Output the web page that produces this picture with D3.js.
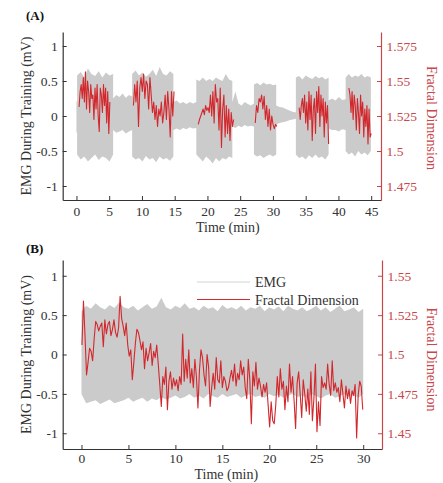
<!DOCTYPE html>
<html>
<head>
<meta charset="utf-8">
<script src="https://cdn.jsdelivr.net/npm/d3@7"></script>
<style>
  body { margin: 0; background: #fff; }
  svg { display: block; font-family: "Liberation Serif", "Times New Roman", serif; }
</style>
</head>
<body>
<svg id="chart" width="443" height="483"></svg>
<script>
// ---- data ----
// panel A: EMG envelope per block (time span in min, upper and lower edge in mV)
const emgA = [
  {t0: 0.0, t1: 0.1, hi: [0.2, 0.22], lo: [-0.25, -0.22]},
  {t0: 0.1, t1: 5.6, hi: [0.58, 0.63, 0.55, 0.68, 0.6, 0.57, 0.64, 0.55, 0.62, 0.58, 0.6], lo: [-0.55, -0.62, -0.58, -0.65, -0.6, -0.55, -0.63, -0.58, -0.6, -0.65, -0.55]},
  {t0: 5.6, t1: 8.5, hi: [0.25, 0.3, 0.27, 0.32, 0.26, 0.3, 0.28], lo: [-0.2, -0.24, -0.22, -0.2, -0.25, -0.22, -0.2]},
  {t0: 8.5, t1: 14.8, hi: [0.6, 0.65, 0.58, 0.62, 0.56, 0.6, 0.66, 0.57, 0.7, 0.6, 0.58, 0.64, 0.6], lo: [-0.58, -0.62, -0.6, -0.65, -0.57, -0.62, -0.6, -0.66, -0.58, -0.62, -0.6, -0.64, -0.58]},
  {t0: 14.8, t1: 18.3, hi: [0.2, 0.22, 0.18, 0.2, 0.17, 0.2, 0.18, 0.2], lo: [-0.2, -0.18, -0.2, -0.17, -0.19, -0.16, -0.18, -0.17]},
  {t0: 18.3, t1: 23.8, hi: [0.52, 0.5, 0.55, 0.5, 0.53, 0.5, 0.55, 0.52, 0.5, 0.6, 0.52, 0.5], lo: [-0.55, -0.6, -0.65, -0.58, -0.62, -0.68, -0.6, -0.65, -0.6, -0.62, -0.58, -0.6]},
  {t0: 23.8, t1: 27.1, hi: [0.2, 0.35, 0.18, 0.15, 0.2, 0.17, 0.15, 0.18], lo: [-0.15, -0.17, -0.14, -0.16, -0.13, -0.15, -0.14, -0.15]},
  {t0: 27.1, t1: 30.5, hi: [0.45, 0.47, 0.44, 0.48, 0.45, 0.46, 0.44, 0.45], lo: [-0.55, -0.58, -0.56, -0.6, -0.57, -0.55, -0.58, -0.55]},
  {t0: 30.5, t1: 33.5, hi: [0.15, 0.13, 0.12, 0.1, 0.08, 0.06, 0.05], lo: [-0.12, -0.1, -0.09, -0.08, -0.06, -0.05, -0.04]},
  {t0: 33.5, t1: 38.5, hi: [0.55, 0.57, 0.52, 0.58, 0.55, 0.53, 0.57, 0.54, 0.56, 0.52, 0.55], lo: [-0.55, -0.6, -0.58, -0.62, -0.56, -0.6, -0.55, -0.6, -0.58, -0.62, -0.55]},
  {t0: 38.5, t1: 41.1, hi: [0.22, 0.25, 0.22, 0.27, 0.23, 0.24], lo: [-0.18, -0.2, -0.2, -0.22, -0.19, -0.2]},
  {t0: 41.1, t1: 44.95, hi: [0.55, 0.6, 0.55, 0.58, 0.56, 0.6, 0.55, 0.57, 0.55], lo: [-0.5, -0.55, -0.52, -0.58, -0.5, -0.55, -0.52, -0.56, -0.5]}
]

// panel A: fractal dimension during each training block
const fdA = [
  {t0: 0.4, t1: 5.1, v: [1.5315, 1.5425, 1.5475, 1.5375, 1.5525, 1.535, 1.5565, 1.53, 1.55, 1.5425, 1.5275, 1.5475, 1.5375, 1.54, 1.5225, 1.545, 1.53, 1.5475, 1.525, 1.514, 1.545, 1.54, 1.5275, 1.5475, 1.5325, 1.545, 1.52, 1.5425, 1.5125, 1.535]},
  {t0: 8.7, t1: 14.9, v: [1.5325, 1.5475, 1.535, 1.55, 1.5175, 1.545, 1.5525, 1.5425, 1.555, 1.5375, 1.55, 1.5475, 1.53, 1.5525, 1.54, 1.5275, 1.535, 1.5225, 1.5325, 1.5175, 1.53, 1.525, 1.535, 1.52, 1.5275, 1.54, 1.5225, 1.5425, 1.53, 1.51, 1.5425, 1.525, 1.5425]},
  {t0: 18.6, t1: 24.0, v: [1.519, 1.5225, 1.525, 1.5275, 1.53, 1.526, 1.5325, 1.529, 1.531, 1.5275, 1.54, 1.525, 1.5425, 1.52, 1.5475, 1.535, 1.5375, 1.515, 1.545, 1.5025, 1.53, 1.54, 1.51, 1.5325, 1.5125, 1.53, 1.5075, 1.5275, 1.5175, 1.5225]},
  {t0: 27.3, t1: 30.6, v: [1.52, 1.5325, 1.5275, 1.5375, 1.535, 1.54, 1.53, 1.539, 1.5225, 1.5325, 1.5175, 1.53, 1.515, 1.525, 1.519, 1.516, 1.519, 1.5175]},
  {t0: 34.0, t1: 38.5, v: [1.531, 1.5225, 1.5325, 1.5375, 1.5275, 1.54, 1.52, 1.535, 1.515, 1.5425, 1.5225, 1.54, 1.5075, 1.53, 1.5375, 1.5125, 1.5425, 1.5275, 1.546, 1.5175, 1.54, 1.525, 1.5375, 1.51, 1.535, 1.52, 1.5325, 1.505]},
  {t0: 41.6, t1: 45.0, v: [1.545, 1.54, 1.5275, 1.5425, 1.5225, 1.54, 1.5325, 1.515, 1.5375, 1.5275, 1.5125, 1.54, 1.525, 1.535, 1.51, 1.53, 1.5175, 1.5325, 1.505, 1.53, 1.51, 1.5125]}
]

// panel B: EMG envelope over the whole 30 min session
const emgB = [
  {t0: 0, t1: 30,
   hi: [0.55, 0.62, 0.58, 0.65, 0.6, 0.57, 0.63, 0.59, 0.66, 0.6, 0.58, 0.62, 0.56, 0.6, 0.64, 0.58, 0.61, 0.72, 0.6, 0.57, 0.62, 0.59, 0.65, 0.58, 0.6, 0.56, 0.62, 0.58, 0.6, 0.55, 0.63, 0.58, 0.6, 0.57, 0.62, 0.56, 0.6, 0.58, 0.62, 0.55, 0.6, 0.57, 0.61, 0.55, 0.62, 0.58, 0.56, 0.6, 0.55, 0.58, 0.62, 0.56, 0.6, 0.54, 0.58, 0.62, 0.55, 0.57, 0.6, 0.54, 0.58],
   lo: [-0.5, -0.62, -0.6, -0.58, -0.63, -0.6, -0.57, -0.62, -0.6, -0.58, -0.55, -0.6, -0.57, -0.55, -0.6, -0.56, -0.58, -0.54, -0.57, -0.55, -0.52, -0.56, -0.54, -0.5, -0.55, -0.52, -0.56, -0.5, -0.53, -0.55, -0.5, -0.54, -0.52, -0.5, -0.55, -0.52, -0.5, -0.54, -0.52, -0.55, -0.5, -0.53, -0.51, -0.55, -0.52, -0.5, -0.54, -0.52, -0.55, -0.5, -0.53, -0.56, -0.52, -0.5, -0.55, -0.53, -0.5, -0.54, -0.52, -0.55, -0.5]}
]

// panel B: fractal dimension over the session
const fdB = [
  {t0: 0.05, t1: 29.95, v: [
    1.506, 1.534, 1.512, 1.487, 1.495, 1.504, 1.502, 1.496,
    1.510, 1.521, 1.519, 1.515, 1.518, 1.520, 1.505,
    1.522, 1.513, 1.519, 1.521, 1.512, 1.516, 1.522,
    1.514, 1.511, 1.517, 1.537, 1.523, 1.518, 1.512, 1.520,
    1.506, 1.499, 1.503, 1.484, 1.495, 1.507,
    1.516, 1.514, 1.509, 1.503, 1.508, 1.491,
    1.504, 1.496, 1.501, 1.507, 1.493, 1.502,
    1.498, 1.506, 1.494, 1.481, 1.467, 1.486,
    1.481, 1.492, 1.465, 1.483, 1.489, 1.478,
    1.485, 1.480, 1.484, 1.477, 1.486, 1.481,
    1.513, 1.483, 1.497, 1.485, 1.503, 1.482,
    1.491, 1.479, 1.497, 1.486, 1.466, 1.490,
    1.503, 1.498, 1.487, 1.480, 1.500, 1.492,
    1.467, 1.479, 1.488, 1.478, 1.498, 1.484,
    1.482, 1.496, 1.479, 1.486, 1.483, 1.477,
    1.479, 1.485, 1.490, 1.483, 1.494, 1.480,
    1.488, 1.484, 1.496, 1.487, 1.492, 1.479,
    1.472, 1.497, 1.484, 1.456, 1.489, 1.480,
    1.495, 1.478, 1.485, 1.480, 1.473, 1.481,
    1.476, 1.482, 1.468, 1.454, 1.470, 1.458,
    1.456, 1.468, 1.486, 1.473, 1.491, 1.478,
    1.483, 1.465, 1.480, 1.470, 1.494, 1.476,
    1.486, 1.471, 1.453, 1.482, 1.489, 1.475,
    1.460, 1.484, 1.475, 1.464, 1.478, 1.462,
    1.489, 1.458, 1.472, 1.494, 1.451, 1.470,
    1.455, 1.486, 1.479, 1.482, 1.478, 1.494,
    1.481, 1.474, 1.496, 1.477, 1.482, 1.476,
    1.479, 1.470, 1.484, 1.475, 1.466, 1.480,
    1.472, 1.478, 1.469, 1.477, 1.474, 1.481,
    1.447, 1.474, 1.483, 1.480, 1.465]}
]

const emgTicks = [-1, -0.5, 0, 0.5, 1]
const fdTicksA = [1.475, 1.5, 1.525, 1.55, 1.575]
const fdTicksB = [1.45, 1.475, 1.5, 1.525, 1.55]
const timeTicksA = [0, 5, 10, 15, 20, 25, 30, 35, 40, 45]
const timeTicksB = [0, 5, 10, 15, 20, 25, 30]

// ---- styles ----
const grey = "#cbcbcb"
const red = "#d2282d"
const axisRed = "#c9474b"
const ink = "#333333"

const svg = d3.select("#chart")

/**
 * Expands blocks {t0, t1, values} into evenly spaced points.
 */
function spread(block, key) {
    const n = block[key].length
    return block[key].map((v, i) => [block.t0 + (n > 1 ? i * (block.t1 - block.t0) / (n - 1) : 0), v])
}

/**
 * Draws one panel with a left EMG axis and a right fractal dimension axis.
 */
function panel(cfg) {
    const {left, right, top, bottom} = cfg
    const x = d3.scaleLinear().domain(cfg.xDomain).range([left, right])
    const y = d3.scaleLinear().domain([-1.2, 1.2]).range([bottom, top])
    const y2 = d3.scaleLinear().domain(cfg.fdDomain).range([bottom, top])
    const g = svg.append("g")

    // EMG as a grey band between the upper and lower envelope
    const pts = []
    cfg.emg.forEach(b => {
        const hi = spread(b, "hi"), lo = spread(b, "lo")
        hi.forEach((p, i) => pts.push({t: p[0], hi: p[1], lo: lo[i][1]}))
    })
    g.append("path")
        .datum(pts)
        .attr("fill", grey)
        .attr("d", d3.area().x(d => x(d.t)).y0(d => y(d.lo)).y1(d => y(d.hi)))

    // fractal dimension in red on the right scale
    const line = d3.line().x(d => x(d[0])).y(d => y2(d[1]))
    cfg.fd.forEach(b => {
        g.append("path")
            .datum(spread(b, "v"))
            .attr("fill", "none")
            .attr("stroke", red)
            .attr("stroke-width", 1.1)
            .attr("stroke-linejoin", "round")
            .attr("d", line)
    })

    // axes with ticks pointing inwards
    const fmt = d => String(+d.toFixed(3))
    const ax = g.append("g").attr("transform", `translate(0,${bottom})`)
        .call(d3.axisBottom(x).tickValues(cfg.timeTicks).tickSize(-4).tickSizeOuter(0).tickPadding(cfg.xPad).tickFormat(fmt))
    const ay = g.append("g").attr("transform", `translate(${left},0)`)
        .call(d3.axisLeft(y).tickValues(emgTicks).tickSize(-4).tickSizeOuter(0).tickPadding(5).tickFormat(fmt))
    const ay2 = g.append("g").attr("transform", `translate(${right},0)`)
        .call(d3.axisRight(y2).tickValues(cfg.fdTicks).tickSize(-4).tickSizeOuter(0).tickPadding(5.5).tickFormat(fmt))

    ;[ax, ay].forEach(a => {
        a.select(".domain").attr("stroke", ink).attr("stroke-width", 1.2)
        a.selectAll(".tick line").attr("stroke", ink)
        a.selectAll("text").attr("fill", ink)
    })
    ay2.select(".domain").attr("stroke", axisRed).attr("stroke-width", 1.2)
    ay2.selectAll(".tick line").attr("stroke", axisRed)
    ay2.selectAll("text").attr("fill", axisRed)
    ;[ax, ay, ay2].forEach(a => a.attr("font-family", null).attr("font-size", 13.5))

    // axis titles and panel letter
    g.append("text")
        .attr("x", (x(0) + x(cfg.timeTicks[cfg.timeTicks.length - 1])) / 2 + 4).attr("y", cfg.xLabelY)
        .attr("text-anchor", "middle").attr("font-size", 14).attr("fill", ink)
        .text("Time (min)")
    g.append("text")
        .attr("transform", `translate(31,${(top + bottom) / 2}) rotate(-90)`)
        .attr("text-anchor", "middle").attr("font-size", 14).attr("fill", ink)
        .text("EMG During Training (mV)")
    g.append("text")
        .attr("transform", `translate(427,${(top + bottom) / 2 + cfg.fdLabelShift}) rotate(90)`)
        .attr("text-anchor", "middle").attr("font-size", 14).attr("fill", axisRed)
        .text("Fractal Dimension")
    g.append("text")
        .attr("x", 26).attr("y", cfg.letterY)
        .attr("font-size", 13).attr("font-weight", "bold").attr("fill", "#111")
        .text(cfg.letter)

    return g
}

panel({
    letter: "(A)", letterY: 20,
    left: 62.7, right: 381, top: 32, bottom: 200,
    xDomain: [-2.1, 46.5], fdDomain: [1.465, 1.585],
    timeTicks: timeTicksA, fdTicks: fdTicksA, xPad: 6,
    emg: emgA, fd: fdA, xLabelY: 231.5, fdLabelShift: 2
})

const gB = panel({
    letter: "(B)", letterY: 253,
    left: 62.7, right: 382, top: 260, bottom: 449,
    xDomain: [-2, 32], fdDomain: [1.44, 1.56],
    timeTicks: timeTicksB, fdTicks: fdTicksB, xPad: 4.5,
    emg: emgB, fd: fdB, xLabelY: 479, fdLabelShift: 5
})

// legend in panel B
const legend = [
    {name: "EMG", color: "#d4d4d4", y: 282},
    {name: "Fractal Dimension", color: red, y: 299.5}
]
legend.forEach(d => {
    gB.append("line").attr("x1", 197).attr("x2", 250).attr("y1", d.y).attr("y2", d.y)
        .attr("stroke", d.color).attr("stroke-width", 1.2)
    gB.append("text").attr("x", 255).attr("y", d.y + 5)
        .attr("font-size", 14).attr("fill", ink).text(d.name)
})
</script>
</body>
</html>
